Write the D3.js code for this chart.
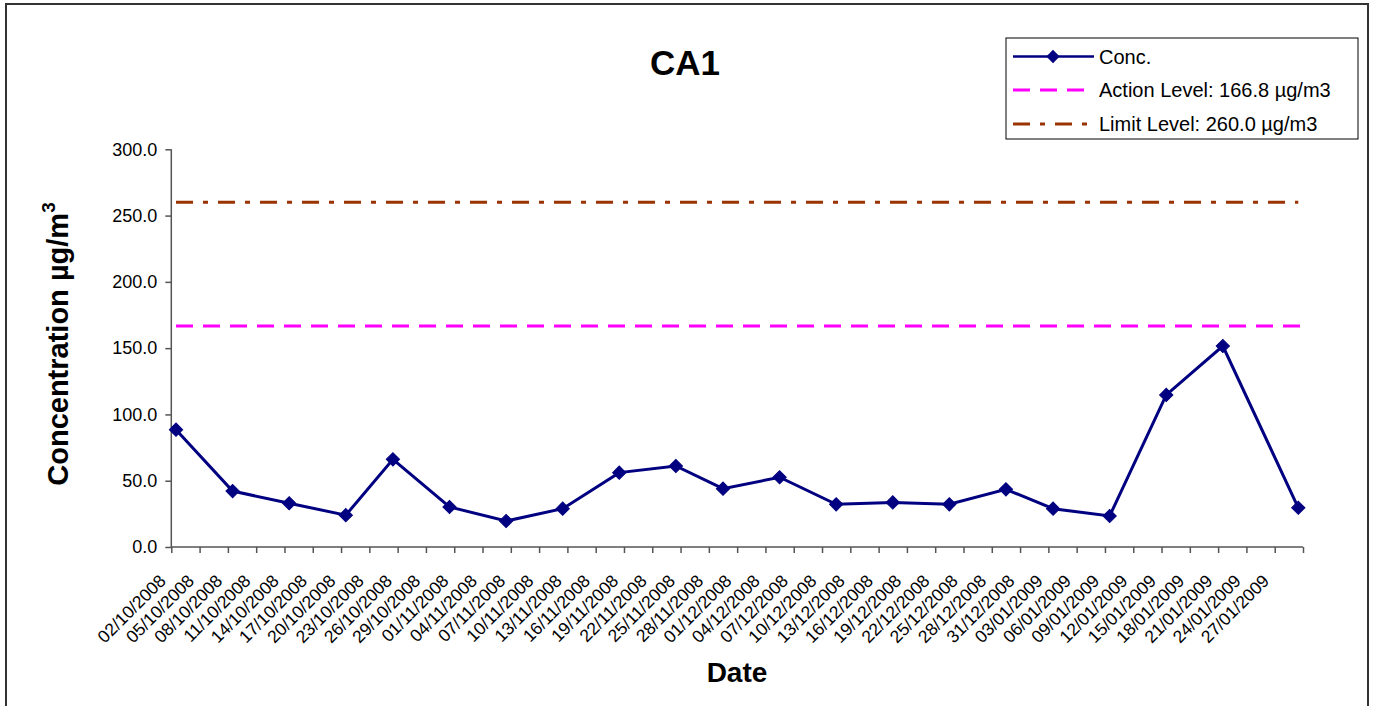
<!DOCTYPE html>
<html>
<head>
<meta charset="utf-8">
<script src="https://cdn.jsdelivr.net/npm/d3@7/dist/d3.min.js"></script>
<style>
  html, body { margin: 0; padding: 0; background: #fff; }
  svg { display: block; font-family: "Liberation Sans", Arial, sans-serif; }
</style>
</head>
<body>
<svg id="chart" width="1374" height="706"></svg>
<script>
// Sampling dates (dd/mm/yyyy) and measured concentrations (µg/m3)
const sampleDates = [
  "02/10/2008", "08/10/2008", "14/10/2008", "20/10/2008", "25/10/2008",
  "31/10/2008", "06/11/2008", "12/11/2008", "18/11/2008", "24/11/2008",
  "29/11/2008", "05/12/2008", "11/12/2008", "17/12/2008", "23/12/2008",
  "29/12/2008", "03/01/2009", "09/01/2009", "15/01/2009", "21/01/2009",
  "29/01/2009"
];
const concValues = [
  88.5, 42.2, 33.0, 24.0, 66.1,
  30.2, 19.6, 28.9, 56.1, 61.1,
  44.0, 52.6, 32.2, 33.6, 32.2,
  43.5, 28.9, 23.4, 114.7, 151.6,
  29.6
];
const actionLevel = 166.8;
const limitLevel = 260.0;

// Axis settings
const axisStart = "02/10/2008";
const axisEnd = "30/01/2009";
const tickStepDays = 3;
const yTicks = [0, 50, 100, 150, 200, 250, 300];

const legendLabels = ["Conc.", "Action Level: 166.8 \u00b5g/m3", "Limit Level: 260.0 \u00b5g/m3"];

const parse = d3.utcParse("%d/%m/%Y");
const fmt = d3.utcFormat("%d/%m/%Y");

const svg = d3.select("#chart");

// outer frame
svg.append("rect")
  .attr("x", 6).attr("y", 4).attr("width", 1362).attr("height", 720)
  .attr("fill", "#fff").attr("stroke", "#333").attr("stroke-width", 2);

const plot = { left: 171.3, right: 1303, top: 149.3, bottom: 547 };

const t0 = parse(axisStart), t1 = parse(axisEnd);
const x = d3.scaleUtc().domain([t0, t1]).range([plot.left, plot.right]);
const y = d3.scaleLinear().domain([0, 300]).range([plot.bottom, plot.top]);

// each sample is placed in the middle of its day
const mid = d => d3.utcHour.offset(d, 12);
const points = sampleDates.map((s, i) => ({ date: parse(s), value: concValues[i] }));

// y axis
const yAxis = svg.append("g")
  .attr("transform", `translate(${plot.left},0)`)
  .call(d3.axisLeft(y).tickValues(yTicks).tickFormat(d3.format(".1f")).tickSize(6).tickPadding(8));
yAxis.selectAll("path, line").attr("stroke", "#555").attr("stroke-width", 1.5);
yAxis.select(".domain").attr("d", `M0,${plot.bottom}V${plot.top}`);
yAxis.selectAll("text").attr("font-size", 18).attr("fill", "#000")
  .attr("font-family", "'Liberation Sans', Arial, sans-serif");

// x axis (date axis, ticks every 3 days)
const tickDates = d3.utcDay.range(t0, d3.utcDay.offset(t1, 1), tickStepDays);
const xAxis = svg.append("g")
  .attr("transform", `translate(0,${plot.bottom})`)
  .call(d3.axisBottom(x).tickValues(tickDates)
    .tickFormat(d => (+d === +t1 ? "" : fmt(d))).tickSize(6).tickSizeOuter(0));
xAxis.selectAll("path, line").attr("stroke", "#555").attr("stroke-width", 1.5);
xAxis.select(".domain").attr("d", `M${plot.left},0H${plot.right}`);
xAxis.selectAll("text")
  .attr("font-size", 17.5).attr("fill", "#000")
  .attr("font-family", "'Liberation Sans', Arial, sans-serif")
  .attr("text-anchor", "end")
  .attr("dy", null)
  .attr("y", null)
  .attr("transform", "translate(-5,35) rotate(-45)");

// reference lines spanning the sampled period
const firstX = x(mid(points[0].date)), lastX = x(mid(points[points.length - 1].date));
const levelLine = d3.line();
svg.append("path")
  .attr("d", levelLine([[firstX, y(actionLevel)], [lastX + 2, y(actionLevel)]]))
  .attr("stroke", "#FF00FF").attr("stroke-width", 3).attr("stroke-dasharray", "17,10").attr("fill", "none");
svg.append("path")
  .attr("d", levelLine([[firstX, y(limitLevel)], [lastX, y(limitLevel)]]))
  .attr("stroke", "#993300").attr("stroke-width", 3).attr("stroke-dasharray", "17,10,5,10").attr("fill", "none");

// concentration series
const line = d3.line().x(d => x(mid(d.date))).y(d => y(d.value));
svg.append("path").datum(points)
  .attr("d", line).attr("fill", "none").attr("stroke", "#000080").attr("stroke-width", 3);

const diamond = d3.symbol().type(d3.symbolSquare).size(88);
svg.append("g").selectAll("path").data(points).join("path")
  .attr("d", diamond)
  .attr("transform", d => `translate(${x(mid(d.date))},${y(d.value)}) rotate(45)`)
  .attr("fill", "#000080").attr("stroke", "#000080").attr("stroke-width", 1);

// title
svg.append("text").attr("x", 685).attr("y", 75)
  .attr("text-anchor", "middle").attr("font-size", 35).attr("font-weight", "bold")
  .text("CA1");

// axis titles
svg.append("text").attr("x", 737).attr("y", 682)
  .attr("text-anchor", "middle").attr("font-size", 28).attr("font-weight", "bold")
  .text("Date");

const yt = svg.append("text")
  .attr("transform", "translate(68,344) rotate(-90)")
  .attr("text-anchor", "middle").attr("font-size", 29).attr("font-weight", "bold");
yt.append("tspan").text("Concentration \u00b5g/m");
yt.append("tspan").attr("font-size", 19).attr("dy", -13).text("3");

// legend
const lg = svg.append("g");
lg.append("rect").attr("x", 1006).attr("y", 38).attr("width", 352).attr("height", 101)
  .attr("fill", "#fff").attr("stroke", "#000").attr("stroke-width", 1);
const rows = [56.5, 90, 124];
lg.append("line").attr("x1", 1013).attr("x2", 1094).attr("y1", rows[0]).attr("y2", rows[0])
  .attr("stroke", "#000080").attr("stroke-width", 2.5);
lg.append("path").attr("d", diamond)
  .attr("transform", `translate(1053,${rows[0]}) rotate(45)`).attr("fill", "#000080");
lg.append("line").attr("x1", 1013).attr("x2", 1088).attr("y1", rows[1]).attr("y2", rows[1])
  .attr("stroke", "#FF00FF").attr("stroke-width", 3).attr("stroke-dasharray", "17,10");
lg.append("line").attr("x1", 1013).attr("x2", 1090).attr("y1", rows[2]).attr("y2", rows[2])
  .attr("stroke", "#993300").attr("stroke-width", 3).attr("stroke-dasharray", "17,10,5,10");
lg.selectAll("text.lbl").data(legendLabels).join("text")
  .attr("class", "lbl")
  .attr("x", 1099).attr("y", (d, i) => rows[i] + 7)
  .attr("font-size", 20).text(d => d);
</script>
</body>
</html>
